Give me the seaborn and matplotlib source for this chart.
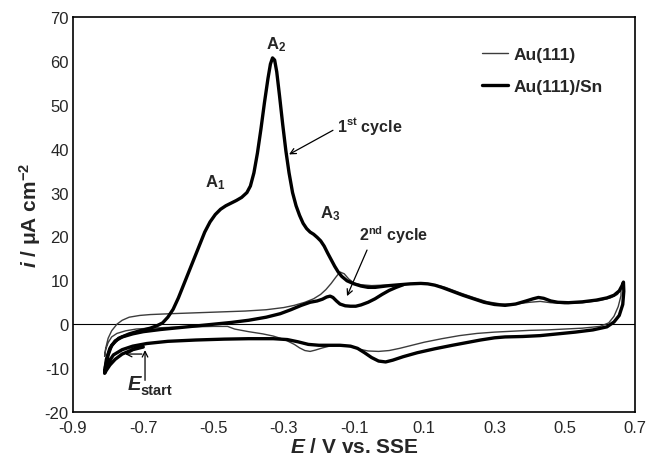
import matplotlib
matplotlib.use("Agg")
import matplotlib.pyplot as plt
import seaborn as sns

# potential / current readings (E in V vs. SSE, i in uA cm^-2)
au_E = [-0.81, -0.807, -0.80, -0.79, -0.775, -0.76, -0.74, -0.71, -0.68, -0.62,
        -0.55, -0.48, -0.41, -0.35, -0.30, -0.27, -0.24, -0.215, -0.195, -0.18,
        -0.165, -0.152, -0.14, -0.128, -0.115, -0.10, -0.08, -0.05, -0.02, 0.02,
        0.06, 0.10, 0.13, 0.16, 0.20, 0.24, 0.28, 0.32, 0.36, 0.40,
        0.43, 0.46, 0.50, 0.55, 0.60, 0.63, 0.65, 0.66,
        0.66, 0.652, 0.64, 0.625, 0.60, 0.55, 0.50, 0.45, 0.40, 0.35,
        0.30, 0.25, 0.20, 0.15, 0.10, 0.06, 0.03, 0.0, -0.03, -0.06,
        -0.09, -0.11, -0.13, -0.15, -0.17, -0.19, -0.21, -0.225, -0.24, -0.255,
        -0.27, -0.29, -0.31, -0.33, -0.36, -0.40, -0.44, -0.46, -0.50, -0.56,
        -0.62, -0.68, -0.72, -0.75, -0.775, -0.79, -0.80, -0.807, -0.81]
au_i = [-7.3, -5.5, -3.2, -1.5, 0.0, 0.9, 1.6, 2.0, 2.2, 2.4,
        2.6, 2.8, 3.0, 3.3, 3.8, 4.3, 5.0, 5.8, 6.8, 7.9,
        9.3, 10.7, 11.9, 11.5, 10.3, 9.4, 9.0, 8.8, 8.9, 9.0,
        9.2, 9.2, 9.0, 8.4, 7.2, 6.1, 5.1, 4.6, 4.6, 5.0,
        5.2, 4.9, 4.7, 4.9, 5.4, 6.0, 6.8, 8.0,
        6.5, 4.0, 1.8, 0.3, -0.5, -0.9, -1.1, -1.3, -1.4, -1.6,
        -1.8, -2.1, -2.6, -3.3, -4.1, -4.9, -5.5, -6.0, -6.2, -6.1,
        -5.6, -5.1, -4.9, -4.9, -5.0, -5.4, -5.9, -6.2, -6.0, -5.4,
        -4.6, -3.8, -3.2, -2.7, -2.2, -1.7, -1.1, -0.5, -0.5, -0.6,
        -0.7, -0.9, -1.1, -1.5, -2.1, -2.9, -4.2, -5.8, -7.3]

# Au(111)/Sn, 1st cycle (starts at E_start = -0.70 V, cathodic first)
sn1_E = [-0.70, -0.73, -0.76, -0.78, -0.795, -0.805, -0.81,
         -0.808, -0.80, -0.79, -0.77, -0.74, -0.71, -0.68, -0.66, -0.645, -0.63,
         -0.615, -0.60, -0.585, -0.57, -0.555, -0.54, -0.525, -0.51, -0.495, -0.48,
         -0.465, -0.45, -0.435, -0.42, -0.405, -0.395, -0.385, -0.375, -0.365, -0.355,
         -0.345, -0.338, -0.332, -0.326, -0.32, -0.312, -0.303, -0.294, -0.285, -0.275,
         -0.265, -0.255, -0.245, -0.235, -0.225, -0.215, -0.205, -0.195, -0.185, -0.175,
         -0.165, -0.155, -0.145, -0.135, -0.12, -0.10, -0.08, -0.06, -0.04, -0.02,
         0.0, 0.03, 0.06, 0.09, 0.11, 0.13, 0.15, 0.18, 0.21, 0.24,
         0.27, 0.30, 0.33, 0.36, 0.39, 0.41, 0.425, 0.44, 0.46, 0.48,
         0.51, 0.55, 0.59, 0.62, 0.64, 0.655, 0.663, 0.667,
         0.668, 0.665, 0.655, 0.64, 0.62, 0.58, 0.53, 0.48, 0.43, 0.38,
         0.33, 0.30, 0.26, 0.22, 0.18, 0.13, 0.08, 0.04, 0.01, -0.01,
         -0.03, -0.05, -0.07, -0.09, -0.11, -0.14, -0.17, -0.20, -0.23, -0.26,
         -0.29, -0.33, -0.40, -0.47, -0.55, -0.63, -0.69, -0.73, -0.76, -0.785,
         -0.80, -0.81]
sn1_i = [-5.2, -5.8, -6.8, -8.0, -9.3, -10.5, -11.2,
         -9.8, -7.0, -4.8, -3.2, -2.2, -1.5, -0.9, -0.3, 0.3, 1.6,
         3.4, 6.0, 9.0, 12.0, 15.0, 18.0, 21.0, 23.3, 25.0, 26.2,
         27.0, 27.6, 28.2, 28.9, 30.0, 31.5, 34.5, 39.0, 44.5, 50.5,
         56.0, 59.3, 60.7, 60.2, 57.5, 52.0, 45.5, 39.5, 34.5, 30.0,
         27.0, 24.8, 23.0, 21.8, 21.0, 20.5, 19.8, 19.0, 17.8, 16.2,
         14.7, 13.2, 11.9, 10.9, 9.9, 9.2, 8.7, 8.4, 8.4, 8.6,
         8.8, 9.0, 9.2, 9.3, 9.2, 8.9, 8.4, 7.5, 6.6, 5.8,
         5.0, 4.5, 4.3, 4.6, 5.3, 5.8, 6.1, 5.9, 5.3, 5.0,
         4.9, 5.1, 5.5, 6.0, 6.6, 7.6, 8.8, 9.6,
         7.5, 4.5, 2.0, 0.5, -0.6, -1.3, -1.8, -2.2, -2.6, -2.8,
         -2.9, -3.1, -3.6, -4.2, -4.8, -5.6, -6.5, -7.4, -8.2, -8.6,
         -8.4, -7.6, -6.5, -5.5, -5.0, -4.8, -4.8, -4.8, -4.6, -4.0,
         -3.5, -3.3, -3.3, -3.4, -3.6, -3.9, -4.4, -5.0, -5.8, -7.0,
         -8.8, -10.8]

# Au(111)/Sn, 2nd cycle (anodic part, rejoins the 1st-cycle trace near 0 V)
sn2_E = [-0.81, -0.805, -0.795, -0.78, -0.76, -0.73, -0.70, -0.65, -0.60, -0.55,
         -0.50, -0.45, -0.40, -0.35, -0.31, -0.28, -0.25, -0.225, -0.205, -0.19,
         -0.178, -0.168, -0.16, -0.15, -0.14, -0.125, -0.11, -0.095, -0.08, -0.06,
         -0.04, -0.02, 0.0, 0.02, 0.04]
sn2_i = [-10.8, -8.0, -5.5, -3.8, -2.9, -2.2, -1.7, -1.2, -0.8, -0.4,
         0.0, 0.4, 0.9, 1.6, 2.4, 3.3, 4.3, 5.0, 5.3, 5.7,
         6.2, 6.4, 6.1, 5.3, 4.6, 4.2, 4.1, 4.1, 4.4, 5.0,
         5.8, 6.8, 7.7, 8.4, 9.0]

x_ticks = [-0.9, -0.7, -0.5, -0.3, -0.1, 0.1, 0.3, 0.5, 0.7]
x_labels = ["-0.9", "-0.7", "-0.5", "-0.3", "-0.1", "0.1", "0.3", "0.5", "0.7"]
y_ticks = [-20, -10, 0, 10, 20, 30, 40, 50, 60, 70]
y_labels = ["-20", "-10", "0", "10", "20", "30", "40", "50", "60", "70"]

sns.set_style("white")
plt.rcParams['font.family'] = ['Liberation Sans', 'DejaVu Sans']
plt.rcParams['mathtext.fontset'] = 'custom'
plt.rcParams['mathtext.rm'] = 'Liberation Sans'
plt.rcParams['mathtext.it'] = 'Liberation Sans:italic'
plt.rcParams['mathtext.bf'] = 'Liberation Sans:bold'
plt.rcParams['mathtext.bfit'] = 'Liberation Sans:italic:bold'
plt.rcParams['axes.unicode_minus'] = False

fig = plt.figure(figsize=(6.49, 4.64), dpi=100)
ax = fig.add_axes([0.1125, 0.110, 0.866, 0.851])

ax.axhline(0, color='black', lw=0.8, zorder=1)

sns.lineplot(x=au_E, y=au_i, sort=False, estimator=None, ax=ax,
             color='#3c3c3c', lw=1.0, label='Au(111)')
sns.lineplot(x=sn1_E, y=sn1_i, sort=False, estimator=None, ax=ax,
             color='black', lw=2.4, label='Au(111)/Sn')
sns.lineplot(x=sn2_E, y=sn2_i, sort=False, estimator=None, ax=ax,
             color='black', lw=2.4, label='_nolegend_')

ax.set_xlim(-0.9, 0.7)
ax.set_ylim(-20, 70)
ax.set_xticks(x_ticks)
ax.set_xticklabels(x_labels, fontsize=12)
ax.set_yticks(y_ticks)
ax.set_yticklabels(y_labels, fontsize=12)
ax.tick_params(axis='both', direction='in', length=4, width=1, color='black')
ax.tick_params(axis='x', pad=6)
ax.tick_params(axis='y', pad=3)
for sp in ax.spines.values():
    sp.set_color('black')
    sp.set_linewidth(1.2)

ax.set_xlabel(r"$\mathbfit{E}$ / V vs. SSE", fontsize=15, fontweight='bold', labelpad=1)
ax.set_ylabel(r"$\mathbfit{i}$ / μA cm$^{\mathbf{-2}}$", fontsize=15, fontweight='bold', labelpad=1)

handles, labels = ax.get_legend_handles_labels()
ax.legend(handles, labels, loc='upper left', bbox_to_anchor=(0.70, 0.965),
          frameon=False, handlelength=1.5, handletextpad=0.3, labelspacing=1.0,
          prop={'weight': 'bold', 'size': 12.5})

lab = dict(fontsize=12, fontweight='bold', ha='center', va='center')
ax.text(-0.322, 64.0, r"$\mathbf{A_2}$", **lab)
ax.text(-0.496, 32.4, r"$\mathbf{A_1}$", **lab)
ax.text(-0.168, 25.5, r"$\mathbf{A_3}$", **lab)

arrow = dict(arrowstyle='->', color='black', lw=0.9, shrinkA=0, shrinkB=0)
ax.text(-0.148, 45.3, r"$\mathbf{1^{st}}$ cycle", fontsize=11.5, fontweight='bold',
        ha='left', va='center')
ax.annotate("", xy=(-0.285, 38.7), xytext=(-0.160, 44.2), arrowprops=arrow)
ax.text(-0.086, 20.5, r"$\mathbf{2^{nd}}$ cycle", fontsize=11.5, fontweight='bold',
        ha='left', va='center')
ax.annotate("", xy=(-0.12, 6.4), xytext=(-0.063, 16.9), arrowprops=arrow)

ax.annotate("", xy=(-0.695, -5.9), xytext=(-0.695, -12.8), arrowprops=arrow)
ax.annotate("", xy=(-0.752, -6.8), xytext=(-0.704, -6.8), arrowprops=arrow)
ax.text(-0.745, -13.4, "E", fontsize=14.5, fontweight='bold', fontstyle='italic',
        ha='left', va='center')
ax.text(-0.708, -15.0, "start", fontsize=10.5, fontweight='bold',
        ha='left', va='center')

fig.savefig("out.png", dpi=100)
